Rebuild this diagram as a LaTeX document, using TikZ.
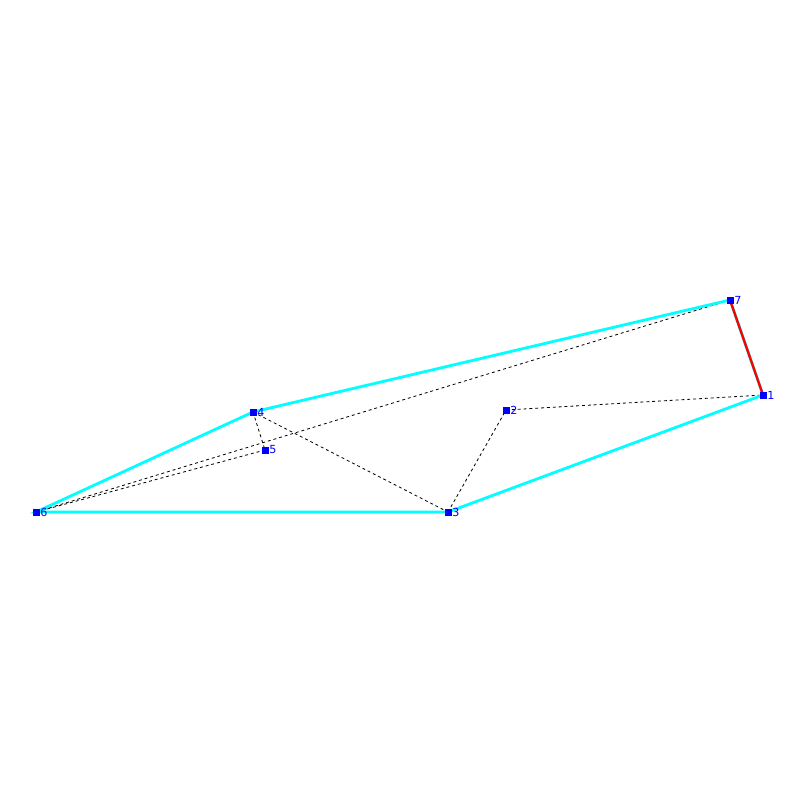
\documentclass[tikz,border=0pt]{standalone}
\usepackage{fontspec}
\setmainfont{DejaVu Sans}
\definecolor{hullcyan}{RGB}{0,255,255}
\definecolor{ptblue}{RGB}{0,0,255}
\definecolor{edgered}{RGB}{255,0,0}
\begin{document}
\begin{tikzpicture}[x=0.3mm,y=-0.3mm,
  pt/.style={fill=ptblue,draw=none,minimum size=2.1mm,inner sep=0pt,rectangle},
  lbl/.style={text=ptblue,font=\fontsize{9.5pt}{10pt}\selectfont,inner sep=0pt,anchor=west},
  hull/.style={hullcyan,line width=2.4pt},
  redge/.style={edgered,line width=2pt},
  dashedge/.style={black,line width=0.7pt,dash pattern=on 2.5pt off 2.5pt}]
\useasboundingbox (0,0) rectangle (800,800);
\fill[white] (0,0) rectangle (800,800);
\coordinate (p1) at (763,395);
\coordinate (p2) at (506,410);
\coordinate (p3) at (448,512);
\coordinate (p4) at (253,412);
\coordinate (p5) at (265,450);
\coordinate (p6) at (36,512);
\coordinate (p7) at (730,300);
% dashed
\draw[dashedge] (p7) -- (p6);
\draw[dashedge] (p5) -- (p6);
\draw[dashedge] (p4) -- (p5);
\draw[dashedge] (p4) -- (p3);
\draw[dashedge] (p3) -- (p2);
\draw[dashedge] (p2) -- (p1);
% hull
\draw[hull] (p6) -- (p4) -- (p7) -- (p1) -- (p3) -- cycle;
\draw[redge] (p7) -- (p1);
% points
\foreach \i in {1,...,7} {
  \node[pt] (n\i) at (p\i) {};
  \node[lbl] (l\i) at ([xshift=3.5]p\i) {\i};
}
\end{tikzpicture}
\end{document}
